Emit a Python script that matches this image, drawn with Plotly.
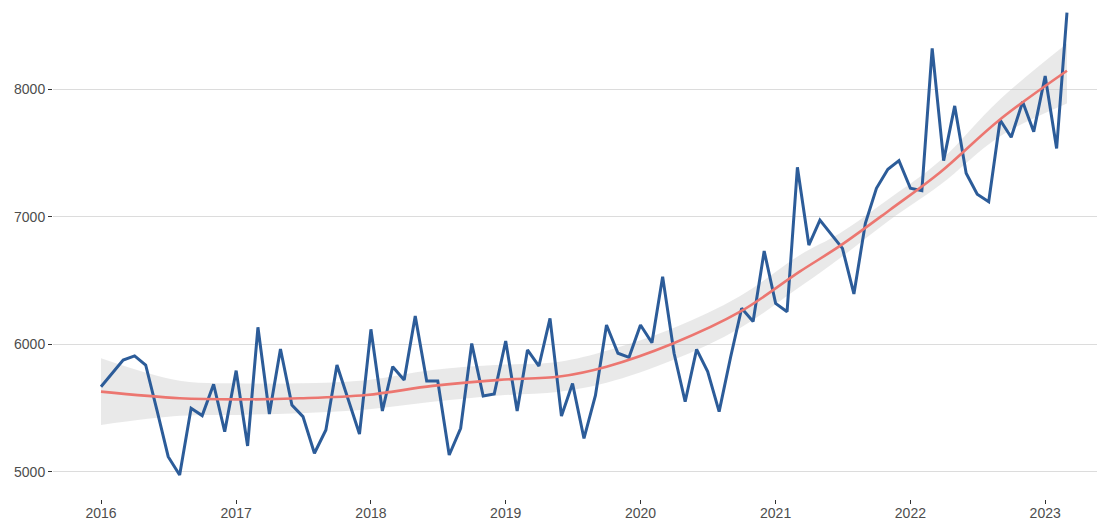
import pandas as pd
import plotly.graph_objects as go

# Monthly series, Jan 2016 - Mar 2023
values = [
    5669, 5779, 5878, 5910, 5839, 5480, 5120, 4976, 5499, 5442, 5688, 5316,
    5795, 5204, 6135, 5455, 5965, 5525, 5434, 5147, 5329, 5839, 5560, 5298,
    6119, 5478, 5826, 5722, 6224, 5714, 5714, 5133, 5343, 6008, 5596, 5612,
    6027, 5478, 5957, 5831, 6205, 5439, 5694, 5263, 5600, 6153, 5931, 5899,
    6153, 6014, 6532, 5931, 5551, 5962, 5787, 5473, 5900, 6284, 6180, 6733,
    6322, 6257, 7390, 6780, 6975, 6860, 6754, 6396, 6950, 7225, 7374, 7442,
    7225, 7206, 8323, 7442, 7871, 7343, 7178, 7120, 7761, 7625, 7904, 7669,
    8106, 7537, 8602,
]
dates = pd.date_range("2016-01-01", periods=len(values), freq="MS")

# Smoothed trend and its confidence band
smooth_dates = ["2016-01-01", "2016-08-01", "2017-01-01", "2017-06-22", "2017-12-20",
                "2018-06-17", "2018-12-15", "2019-05-27", "2019-10-01", "2020-03-29",
                "2020-09-27", "2021-03-07", "2021-06-24", "2021-11-06", "2022-03-22",
                "2022-08-30", "2023-03-01"]
smooth_fit = [5630, 5578, 5569, 5578, 5604, 5675, 5722, 5749, 5826, 6008,
              6257, 6571, 6773, 7055, 7349, 7761, 8147]
smooth_lo = [5369, 5440, 5447, 5460, 5490, 5551, 5600, 5630, 5700, 5878,
             6130, 6450, 6676, 6976, 7250, 7630, 7890]
smooth_hi = [5892, 5715, 5696, 5696, 5720, 5800, 5840, 5865, 5950, 6127,
             6380, 6700, 6872, 7146, 7440, 7918, 8360]

year_ticks = [f"{y}-01-01" for y in range(2016, 2024)]
year_labels = [str(y) for y in range(2016, 2024)]

fig = go.Figure()
fig.add_trace(go.Scatter(x=smooth_dates, y=smooth_hi, mode="lines",
                         line=dict(width=0, shape="spline"), hoverinfo="skip",
                         showlegend=False))
fig.add_trace(go.Scatter(x=smooth_dates, y=smooth_lo, mode="lines",
                         line=dict(width=0, shape="spline"), fill="tonexty",
                         fillcolor="rgba(200,200,200,0.4)", hoverinfo="skip",
                         showlegend=False))
fig.add_trace(go.Scatter(x=dates, y=values, mode="lines",
                         line=dict(color="#2c5c99", width=3), showlegend=False))
fig.add_trace(go.Scatter(x=smooth_dates, y=smooth_fit, mode="lines",
                         line=dict(color="#ec7670", width=2.6, shape="spline"),
                         showlegend=False))

fig.update_layout(
    width=1097, height=516,
    margin=dict(l=45, r=0, t=0, b=25, autoexpand=False),
    paper_bgcolor="white", plot_bgcolor="white",
    font=dict(family="Liberation Sans, Arial, sans-serif", size=14, color="#4d4d4d"),
    xaxis=dict(
        type="date", range=["2015-08-24", "2023-06-12"],
        tickvals=year_ticks, ticktext=year_labels, automargin=False,
        showgrid=False, zeroline=False, showline=False,
        ticks="outside", ticklen=4, tickwidth=1, tickcolor="#333333",
        ticklabelstandoff=-3,
    ),
    yaxis=dict(
        range=[4788, 8639], tickvals=[5000, 6000, 7000, 8000], automargin=False,
        showgrid=True, gridcolor="#dcdcdc", gridwidth=1,
        zeroline=False, showline=False,
        ticks="outside", ticklen=4, tickwidth=1, tickcolor="#333333",
    ),
)

fig.write_html("out.html")
